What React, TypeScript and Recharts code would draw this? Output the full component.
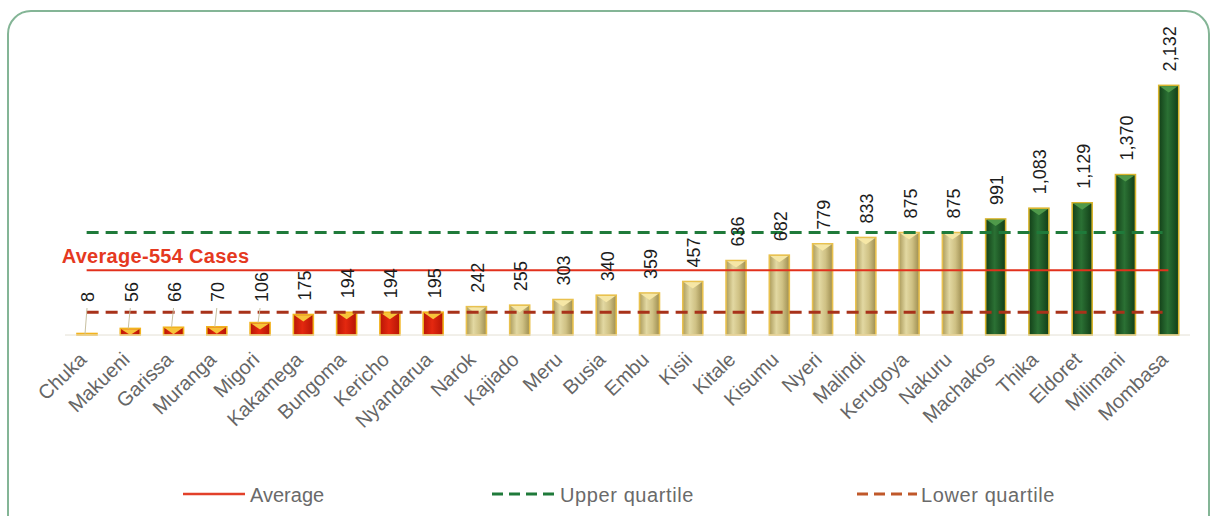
import React from 'react';
import { BarChart, Bar, XAxis, YAxis, ReferenceLine, Legend, LabelList } from 'recharts';

const counties = ['Chuka', 'Makueni', 'Garissa', 'Muranga', 'Migori', 'Kakamega', 'Bungoma', 'Kericho', 'Nyandarua', 'Narok', 'Kajiado', 'Meru', 'Busia', 'Embu', 'Kisii', 'Kitale', 'Kisumu', 'Nyeri', 'Malindi', 'Kerugoya', 'Nakuru', 'Machakos', 'Thika', 'Eldoret', 'Milimani', 'Mombasa'];
const cases = [8, 56, 66, 70, 106, 175, 194, 194, 195, 242, 255, 303, 340, 359, 457, 636, 682, 779, 833, 875, 875, 991, 1083, 1129, 1370, 2132];
const tiers = ['low', 'low', 'low', 'low', 'low', 'low', 'low', 'low', 'low', 'mid', 'mid', 'mid', 'mid', 'mid', 'mid', 'mid', 'mid', 'mid', 'mid', 'mid', 'mid', 'high', 'high', 'high', 'high', 'high'];
const averageCases = 554;
const upperQuartile = 875;
const lowerQuartile = 194;
const averageLabel = 'Average-554 Cases';
const legendLabels = ['Average', 'Upper quartile', 'Lower quartile'];

const data = counties.map((c, i) => ({ county: c, cases: cases[i], tier: tiers[i] }));

const FONT = '"Liberation Sans", Arial, Helvetica, sans-serif';

const tierStyle: Record<string, { border: string; top: string }> = {
  low: { border: '#f2b31e', top: '#f7c43a' },
  mid: { border: '#e9c14e', top: '#f6e7a6' },
  high: { border: '#d9b52e', top: '#4f9a4a' },
};

const BarShape = (props: any) => {
  const { x, y, width, height, payload } = props;
  if (height == null || width == null) return null;
  const t = payload.tier;
  const st = tierStyle[t];
  const h = Math.max(height, 1.5);
  const yy = y + height - h;
  const tri = Math.min(7, h);
  return (
    <g>
      <rect x={x} y={yy} width={width} height={h} fill={`url(#grad-${t})`} stroke={st.border} strokeWidth={1.6} />
      <path d={`M${x + 1},${yy + 0.8} L${x + width - 1},${yy + 0.8} L${x + width / 2},${yy + tri} Z`} fill={st.top} />
    </g>
  );
};

const ValueLabel = (props: any) => {
  const { x, y, width, value } = props;
  const cx = x + width / 2;
  const natural = y - 14;
  const cap = 302;
  const ly = Math.min(natural, cap);
  return (
    <g>
      {natural > cap && (
        <line x1={cx} y1={ly + 6} x2={cx - 2} y2={y} stroke="#c8c0a0" strokeWidth={1} />
      )}
      <text
        transform={`translate(${cx + 1},${ly}) rotate(-90)`}
        textAnchor="start"
        dy="0.36em"
        fontSize={18}
        fontFamily={FONT}
        fill="#1c1c1c"
      >
        {Number(value).toLocaleString('en-US')}
      </text>
    </g>
  );
};

const Tick = (props: any) => {
  const { x, y, payload } = props;
  return (
    <text
      transform={`translate(${x + 1},${y + 18}) rotate(-44)`}
      textAnchor="end"
      fontSize={20}
      fontFamily={FONT}
      fill="#666666"
    >
      {payload.value}
    </text>
  );
};

const AverageText = (props: any) => {
  const vb = props.viewBox || {};
  return (
    <text x={vb.x - 25} y={vb.y - 7} fontSize={20} fontWeight="bold" letterSpacing={0.3} fontFamily={FONT} fill="#e5391f">
      {averageLabel}
    </text>
  );
};

const LegendContent = () => (
  <svg width={1216} height={40} style={{ display: 'block' }}>
    <line x1={183} x2={245} y1={19} y2={19} stroke="#e2402a" strokeWidth={2.5} />
    <text x={250} y={27} fontSize={20} fontFamily={FONT} fill="#6a6a6a">{legendLabels[0]}</text>
    <line x1={492} x2={556} y1={19} y2={19} stroke="#1f7a3a" strokeWidth={3} strokeDasharray="11 6" />
    <text x={560} y={27} fontSize={20} letterSpacing={0.6} fontFamily={FONT} fill="#6a6a6a">{legendLabels[1]}</text>
    <line x1={857} x2={917} y1={19} y2={19} stroke="#c0582a" strokeWidth={3} strokeDasharray="11 6" />
    <text x={921} y={27} fontSize={20} letterSpacing={0.6} fontFamily={FONT} fill="#6a6a6a">{legendLabels[2]}</text>
  </svg>
);

export default function App() {
  return (
    <div style={{ position: 'absolute', left: 0, top: 0, width: 1216, height: 516, background: '#ffffff', overflow: 'hidden' }}>
      <div
        style={{
          position: 'absolute',
          left: 7,
          top: 10,
          width: 1203,
          height: 530,
          border: '2px solid #84b596',
          borderRadius: 24,
          boxSizing: 'border-box',
        }}
      />
      <div style={{ position: 'absolute', left: 0, top: 0 }}>
        <BarChart width={1216} height={516} data={data} margin={{ top: 54, right: 26, left: 65, bottom: 41 }}>
          <defs>
            <linearGradient id="grad-low" x1="0" y1="0" x2="1" y2="0">
              <stop offset="0%" stopColor="#b81606" />
              <stop offset="45%" stopColor="#e4280f" />
              <stop offset="100%" stopColor="#b51405" />
            </linearGradient>
            <linearGradient id="grad-mid" x1="0" y1="0" x2="1" y2="0">
              <stop offset="0%" stopColor="#ab9b5c" />
              <stop offset="35%" stopColor="#e2d8a2" />
              <stop offset="65%" stopColor="#cfc184" />
              <stop offset="100%" stopColor="#9d8d50" />
            </linearGradient>
            <linearGradient id="grad-high" x1="0" y1="0" x2="1" y2="0">
              <stop offset="0%" stopColor="#123f18" />
              <stop offset="45%" stopColor="#2b7134" />
              <stop offset="100%" stopColor="#113d17" />
            </linearGradient>
          </defs>
          <XAxis
            dataKey="county"
            height={100}
            interval={0}
            tickLine={false}
            axisLine={{ stroke: '#e4e0d4', strokeWidth: 1 }}
            tick={<Tick />}
          />
          <YAxis hide domain={[0, 2400]} />
          <ReferenceLine
            segment={[{ x: counties[0], y: upperQuartile }, { x: counties[counties.length - 1], y: upperQuartile }]}
            stroke="#1f7a3a"
            strokeWidth={3}
            strokeDasharray="12 7"
          />
          <ReferenceLine
            segment={[{ x: counties[0], y: averageCases }, { x: counties[counties.length - 1], y: averageCases }]}
            stroke="#e2311c"
            strokeWidth={2}
            label={<AverageText />}
          />
          <Bar dataKey="cases" barSize={20} isAnimationActive={false} shape={<BarShape />}>
            <LabelList dataKey="cases" content={<ValueLabel />} />
          </Bar>
          <ReferenceLine
            segment={[{ x: counties[0], y: lowerQuartile }, { x: counties[counties.length - 1], y: lowerQuartile }]}
            stroke="#a8321a"
            strokeWidth={3}
            strokeDasharray="12 7"
          />
          <Legend verticalAlign="bottom" content={<LegendContent />} wrapperStyle={{ left: 0, top: 475, width: 1216, height: 40 }} />
        </BarChart>
      </div>
    </div>
  );
}
